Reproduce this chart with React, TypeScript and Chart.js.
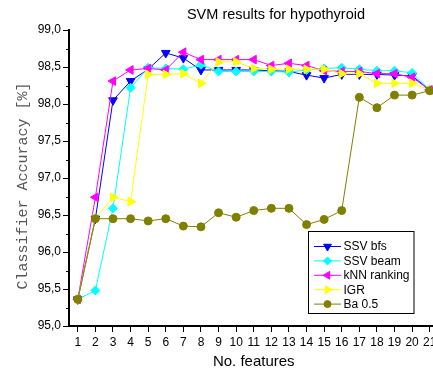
import React, { useEffect, useRef } from 'react';
import { Chart, registerables } from 'chart.js';
import { drawPoint } from 'chart.js/helpers';

Chart.register(...registerables);

const features = [1, 2, 3, 4, 5, 6, 7, 8, 9, 10, 11, 12, 13, 14, 15, 16, 17, 18, 19, 20, 21];
const xTickValues = features;
const yTickValues = [95, 95.5, 96, 96.5, 97, 97.5, 98, 98.5, 99];
const yMinorTickValues = [95.25, 95.75, 96.25, 96.75, 97.25, 97.75, 98.25, 98.75];

const ssvBfs = [95.36, 96.45, 98.05, 98.31, 98.47, 98.69, 98.62, 98.46, 98.46, 98.46, 98.46, 98.45, 98.44, 98.39, 98.35, 98.40, 98.40, 98.40, 98.39, 98.38, 98.19];
const ssvBeam = [95.36, 95.48, 96.59, 98.22, 98.49, 98.48, 98.47, 98.53, 98.44, 98.44, 98.44, 98.44, 98.43, 98.46, 98.48, 98.49, 98.47, 98.45, 98.45, 98.42, 98.19];
const knnRanking = [95.36, 96.74, 98.31, 98.46, 98.48, 98.46, 98.70, 98.60, 98.60, 98.60, 98.60, 98.52, 98.55, 98.52, 98.45, 98.44, 98.44, 98.41, 98.41, 98.36, 98.19];
const igr = [95.36, 96.45, 96.74, 96.68, 98.40, 98.40, 98.41, 98.28, 98.57, 98.57, 98.48, 98.47, 98.47, 98.47, 98.47, 98.41, 98.41, 98.28, 98.28, 98.28, 98.19];
const ba05 = [95.36, 96.45, 96.45, 96.45, 96.42, 96.45, 96.35, 96.34, 96.53, 96.47, 96.56, 96.59, 96.59, 96.37, 96.44, 96.56, 98.09, 97.95, 98.12, 98.12, 98.18];

const seriesNames = ['SSV bfs', 'SSV beam', 'kNN ranking', 'IGR', 'Ba 0.5'];
const seriesColors = ['#0000ff', '#00ffff', '#ff00ff', '#ffff00', '#808000'];
const seriesStyles = ['triangle', 'rectRot', 'triangle', 'triangle', 'circle'];
const seriesRotations = [180, 0, -90, 90, 0];
const seriesRadius = [5, 4.5, 5, 5, 4];
const seriesValues = [ssvBfs, ssvBeam, knnRanking, igr, ba05];

const SANS = '"Liberation Sans", Arial, sans-serif';

const overlayPlugin = {
  id: 'overlay',
  afterDraw(chart: any) {
    const ctx = chart.ctx;
    const y = chart.scales.y;
    const area = chart.chartArea;
    ctx.save();
    // minor y ticks
    ctx.strokeStyle = '#000';
    ctx.lineWidth = 1;
    yMinorTickValues.forEach((v) => {
      const py = Math.round(y.getPixelForValue(v)) + 0.5;
      ctx.beginPath();
      ctx.moveTo(area.left - 3, py);
      ctx.lineTo(area.left, py);
      ctx.stroke();
    });
    // main title
    ctx.fillStyle = '#000';
    ctx.font = `14.5px ${SANS}`;
    ctx.textAlign = 'center';
    ctx.textBaseline = 'middle';
    ctx.fillText('SVM results for hypothyroid', 276, 15);
    // y title
    ctx.save();
    ctx.translate(23.5, 186);
    ctx.rotate(-Math.PI / 2);
    ctx.font = '15px "Liberation Mono", "Courier New", monospace';
    ctx.fillStyle = '#555';
    ctx.fillText('Classifier Accuracy [%]', 0, 0);
    ctx.restore();
    // legend
    const bx = 308.5, by = 231.5, bw = 105.5, bh = 82;
    ctx.fillStyle = '#fff';
    ctx.fillRect(bx, by, bw, bh);
    ctx.strokeStyle = '#000';
    ctx.lineWidth = 1;
    ctx.strokeRect(bx, by, bw, bh);
    ctx.font = `12px ${SANS}`;
    ctx.textAlign = 'left';
    ctx.textBaseline = 'middle';
    seriesNames.forEach((name, i) => {
      const ry = 246.5 + i * 14.4;
      ctx.strokeStyle = seriesColors[i];
      ctx.lineWidth = 1;
      ctx.beginPath();
      ctx.moveTo(314, ry);
      ctx.lineTo(341, ry);
      ctx.stroke();
      ctx.fillStyle = seriesColors[i];
      drawPoint(ctx, {
        pointStyle: seriesStyles[i],
        rotation: seriesRotations[i],
        radius: seriesRadius[i] - 0.5,
        borderWidth: 1,
      } as any, 327.5, ry);
      ctx.fillStyle = '#000';
      ctx.fillText(name, 343.5, ry + 0.5);
    });
    ctx.restore();
  },
};

export default function App() {
  const canvasRef = useRef<HTMLCanvasElement | null>(null);

  useEffect(() => {
    const canvas = canvasRef.current;
    if (!canvas) return;
    const order = [4, 3, 2, 1, 0];
    const chart = new Chart(canvas, {
      type: 'line',
      data: {
        datasets: seriesNames.map((name, i) => ({
          label: name,
          data: features.map((f, j) => ({ x: f, y: seriesValues[i][j] })),
          borderColor: seriesColors[i],
          backgroundColor: seriesColors[i],
          borderWidth: 1,
          pointStyle: seriesStyles[i] as any,
          pointRotation: seriesRotations[i],
          pointRadius: seriesRadius[i],
          pointBorderWidth: 1,
          pointBackgroundColor: seriesColors[i],
          pointBorderColor: seriesColors[i],
          tension: 0,
          order: order[i],
        })),
      },
      options: {
        animation: false,
        responsive: false,
        devicePixelRatio: 1,
        layout: { padding: { top: 30, right: 21.5, bottom: 0, left: 0 } },
        plugins: {
          legend: { display: false },
          title: { display: false },
          tooltip: { enabled: false },
        },
        scales: {
          x: {
            type: 'linear',
            min: 0.5,
            max: 21.5,
            afterBuildTicks: (s: any) => {
              s.ticks = xTickValues.map((v) => ({ value: v }));
            },
            afterFit: (s: any) => {
              s.height = 47;
            },
            ticks: {
              color: '#000',
              font: { family: SANS, size: 12 },
              padding: 3,
              maxRotation: 0,
              autoSkip: false,
              callback: (v: any) => String(v),
            },
            grid: { display: true, drawOnChartArea: false, drawTicks: true, tickLength: 6, color: '#000' },
            border: { display: true, color: '#000', width: 2 },
            title: {
              display: true,
              text: 'No. features',
              color: '#000',
              font: { family: SANS, size: 15 },
              padding: { top: 0, bottom: 2 },
            },
          },
          y: {
            type: 'linear',
            min: 95,
            max: 99,
            afterBuildTicks: (s: any) => {
              s.ticks = yTickValues.map((v) => ({ value: v }));
            },
            afterFit: (s: any) => {
              s.width = 69;
            },
            ticks: {
              color: '#000',
              font: { family: SANS, size: 12 },
              padding: 2,
              callback: (v: any) => Number(v).toFixed(1).replace('.', ','),
            },
            grid: { display: true, drawOnChartArea: false, drawTicks: true, tickLength: 6, color: '#000' },
            border: { display: true, color: '#000', width: 2 },
          },
        },
      },
      plugins: [overlayPlugin],
    });
    return () => chart.destroy();
  }, []);

  return (
    <div style={{ position: 'absolute', left: 0, top: 0, width: 433, height: 373, overflow: 'hidden', background: '#fff' }}>
      <canvas ref={canvasRef} width={460} height={373} style={{ display: 'block', width: 460, height: 373 }} />
    </div>
  );
}
